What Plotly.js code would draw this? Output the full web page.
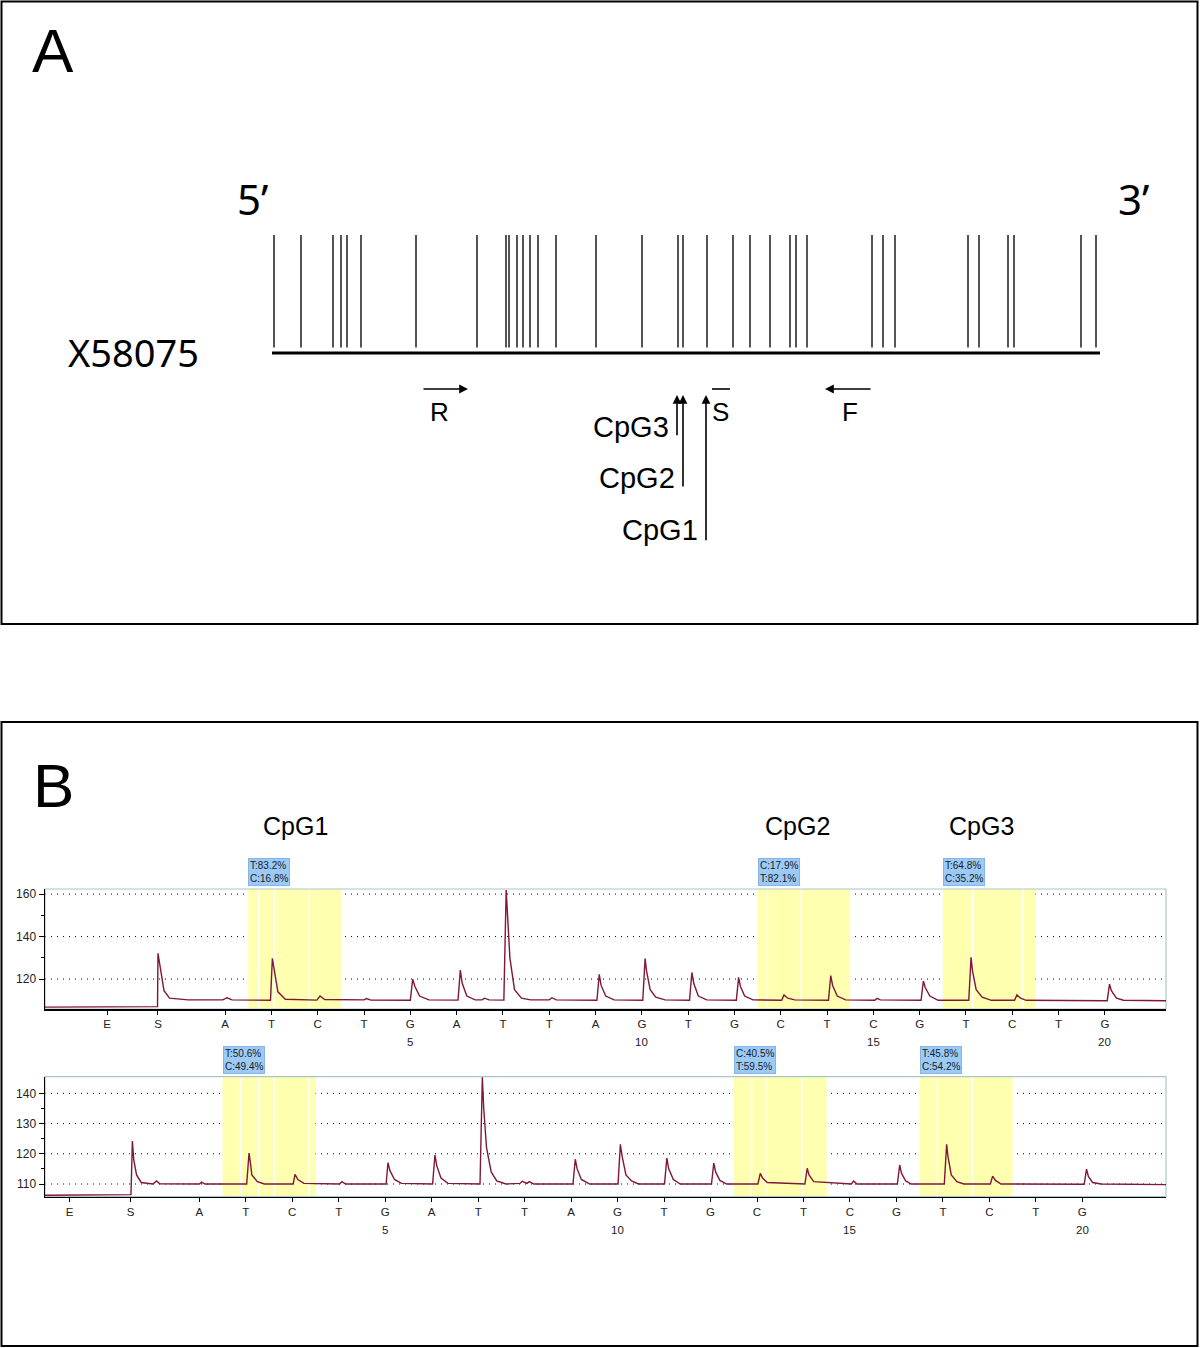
<!DOCTYPE html>
<html>
<head>
<meta charset="utf-8">
<script src="https://cdn.plot.ly/plotly-3.0.1.min.js"></script>
<style>
  html, body { margin: 0; padding: 0; background: #fff; }
  #fig { width: 1200px; height: 1348px; }
</style>
</head>
<body>
<div id="fig"></div>
<script>
// ---------- Panel A: amplicon schematic (X58075) ----------
// CpG site positions along the amplicon (relative units, 0..828)
const cpgSites = [2, 29, 61, 69, 75, 89, 144, 205, 234, 237, 245, 251, 258, 266, 284, 324,
  370, 406, 411, 435, 461, 478, 498, 518, 524, 535, 600, 611, 623, 696, 707, 736, 742, 809, 824];
const ampliconLen = 828;
const primerR = [150, 196];   // tail, head
const primerF = [600, 553];
const seqPrimerS = [440, 458];
const analysedNames = ['CpG1', 'CpG2', 'CpG3'];
const analysedPos = [434, 411, 405];

// ---------- Panel B: pyrograms ----------
const dispensation = ['E', 'S', 'A', 'T', 'C', 'T', 'G', 'A', 'T', 'T', 'A', 'G', 'T', 'G', 'C', 'T', 'C', 'G', 'T', 'C', 'T', 'G'];
const dispPosTop = [-1.55, -0.45, 1, 2, 3, 4, 5, 6, 7, 8, 9, 10, 11, 12, 13, 14, 15, 16, 17, 18, 19, 20];
const dispPosBot = [-1.79, -0.48, 1, 2, 3, 4, 5, 6, 7, 8, 9, 10, 11, 12, 13, 14, 15, 16, 17, 18, 19, 20];
const dispNumbers = [5, 10, 15, 20];

const regionStart = [1.5, 12.5, 16.5];
const regionEnd = [3.5, 14.5, 18.5];
const pctTop = ['T:83.2%<br>C:16.8%', 'C:17.9%<br>T:82.1%', 'T:64.8%<br>C:35.2%'];
const pctBot = ['T:50.6%<br>C:49.4%', 'C:40.5%<br>T:59.5%', 'T:45.8%<br>C:54.2%'];
// faint white separators inside the highlighted regions
const sepTop = [1.72, 2.06, 2.82, 12.71, 13.44, 17.14, 18.23];
const sepBot = [1.89, 2.28, 2.61, 3.36, 12.88, 13.22, 13.97, 16.88, 17.63];

// traced signal, top pyrogram
const topX = [-2.89, -1.5, -0.8, -0.46, -0.45, -0.40, -0.32, -0.2, 0.2,
  0.95, 1.04, 1.15, 1.98, 2.02, 2.06, 2.14, 2.3, 2.98, 3.05, 3.15, 4.0, 4.05, 4.15,
  5.0, 5.05, 5.1, 5.2, 5.4, 6.03, 6.08, 6.12, 6.22, 6.4, 6.55, 6.6, 6.7,
  7.02, 7.07, 7.1, 7.15, 7.25, 7.4, 7.6, 8.0, 8.06, 8.15,
  9.03, 9.08, 9.12, 9.22, 9.4, 10.02, 10.07, 10.1, 10.18, 10.3, 10.5,
  11.03, 11.08, 11.12, 11.22, 11.4, 12.04, 12.09, 12.13, 12.22, 12.4,
  13.02, 13.07, 13.15, 13.3, 14.03, 14.08, 14.12, 14.22, 14.4, 15.03, 15.08, 15.15,
  16.03, 16.08, 16.12, 16.22, 16.4, 17.06, 17.11, 17.14, 17.22, 17.35, 17.55,
  18.05, 18.1, 18.18, 18.3, 20.05, 20.1, 20.14, 20.25, 20.4, 21.32];
const topY = [106.8, 106.9, 107.2, 107.0, 132.1, 126, 114.5, 111, 110.2,
  110.2, 111.2, 110.2, 110.0, 129.7, 124, 114, 110.5, 110.1, 112.0, 110.4, 110.2, 110.8, 110.1,
  110.0, 119.9, 116.5, 112, 110.2, 110.1, 124.2, 118, 112, 110.2, 110.2, 111.0, 110.2,
  110.1, 161.9, 150, 130, 115, 111, 110.2, 110.2, 111.2, 110.2,
  110.0, 122.2, 117, 112, 110.2, 110.0, 129.7, 124, 115, 111.5, 110.2,
  110.0, 123.1, 118, 112, 110.2, 110.0, 120.8, 116.5, 112, 110.2,
  110.0, 112.5, 111, 110.2, 110.0, 121.6, 117, 112, 110.2, 110.0, 110.9, 110.2,
  110.0, 119.1, 116, 112, 110.0, 110.0, 130.2, 124, 115, 111.5, 110.0,
  110.0, 112.5, 111, 110.0, 109.8, 117.6, 114.5, 111, 110.0, 109.8];

// traced signal, bottom pyrogram
const botX = [-2.32, -1.0, -0.5, -0.47, -0.44, -0.41, -0.35, -0.25, 0.0, 0.08, 0.15,
  1.0, 1.05, 1.12, 2.02, 2.07, 2.1, 2.13, 2.25, 2.4, 3.02, 3.06, 3.12, 3.25, 4.02, 4.07, 4.15,
  5.02, 5.06, 5.1, 5.2, 5.35, 6.02, 6.07, 6.11, 6.2, 6.35,
  7.04, 7.09, 7.12, 7.18, 7.28, 7.4, 7.6, 7.9, 7.95, 8.05, 8.1, 8.2,
  9.04, 9.09, 9.13, 9.22, 9.4, 10.01, 10.06, 10.1, 10.18, 10.3, 10.45,
  11.01, 11.06, 11.1, 11.2, 11.35, 12.02, 12.07, 12.11, 12.2, 12.35,
  13.02, 13.07, 13.12, 13.22, 14.03, 14.08, 14.12, 14.22, 15.03, 15.08, 15.15,
  16.02, 16.07, 16.11, 16.2, 16.32, 17.03, 17.08, 17.11, 17.18, 17.3, 17.45,
  18.02, 18.07, 18.13, 18.25, 20.04, 20.09, 20.13, 20.22, 20.4, 21.8];
const botY = [106.3, 106.4, 106.6, 106.5, 124.2, 118, 113, 110.5, 110.0, 111.0, 110.1,
  110.0, 110.6, 110.0, 110.0, 120.2, 117, 113, 110.8, 110.0, 110.0, 113.2, 111.5, 110.2, 110.0, 110.8, 110.0,
  110.0, 117.1, 114.5, 111.5, 110.2, 110.0, 119.6, 116, 112, 110.2,
  110.0, 145.3, 135, 122, 114, 111, 110.0, 110.2, 110.9, 110.2, 110.8, 110.0,
  110.0, 118.2, 115, 111.5, 110.0, 110.0, 123.1, 119, 113, 111, 110.0,
  110.0, 118.6, 115, 111.5, 110.0, 110.0, 116.9, 114, 111.2, 110.0,
  110.0, 113.5, 112, 110.5, 110.0, 115.2, 113, 110.8, 110.0, 111.0, 110.0,
  110.0, 116.3, 113.5, 111, 110.0, 110.0, 123.1, 119, 113, 110.8, 110.0,
  110.0, 112.6, 111.2, 110.0, 109.9, 114.9, 112.5, 110.5, 110.0, 109.8];

// ---------- helpers ----------
const W = 1200, H = 1348;
const px = v => v / W;
const py = v => 1 - v / H;
const sans = 'Liberation Sans, Arial, sans-serif';
const traceColor = '#7e1739';

const traces = [];
const shapes = [];
const annotations = [];

function label(x, y, text, font) {
  annotations.push({ x: x, y: y, xref: 'paper', yref: 'paper', text: text, showarrow: false,
    xanchor: 'center', yanchor: 'middle', font: font });
}

// panel A: site ticks
const siteX = [], siteY = [];
cpgSites.forEach(s => { siteX.push(s, s, null); siteY.push(347.5, 235, null); });
traces.push({ x: siteX, y: siteY, xaxis: 'x', yaxis: 'y', mode: 'lines', hoverinfo: 'skip',
  line: { color: '#2a2a2a', width: 1.6 } });
traces.push({ x: [0, ampliconLen], y: [353, 353], xaxis: 'x', yaxis: 'y', mode: 'lines',
  line: { color: '#000', width: 3.2 } });
traces.push({ x: seqPrimerS, y: [389, 389], xaxis: 'x', yaxis: 'y', mode: 'lines',
  line: { color: '#000', width: 1.6 } });

function arrow(x, y, ax, ay) {
  annotations.push({ x: x, y: y, ax: ax, ay: ay, xref: 'x', yref: 'y', axref: 'x', ayref: 'y',
    text: '', showarrow: true, arrowhead: 2, arrowsize: 1.1, arrowwidth: 1.6, arrowcolor: '#000',
    standoff: 0, startstandoff: 0 });
}
arrow(primerR[1], 389, primerR[0], 389);
arrow(primerF[1], 389, primerF[0], 389);
const tailY = [541.7, 488, 436.7];
const labelY = [530, 478, 427];
analysedPos.forEach((p, i) => {
  arrow(p, 395, p, tailY[i]);
  annotations.push({ x: p - 6, y: labelY[i], xref: 'x', yref: 'y', text: analysedNames[i],
    showarrow: false, xanchor: 'right', yanchor: 'middle', font: { family: sans, size: 29, color: '#000' } });
});
[['R', 167], ['S', 448], ['F', 578]].forEach(([t, x]) => {
  annotations.push({ x: x, y: 412, xref: 'x', yref: 'y', text: t, showarrow: false,
    xanchor: 'center', yanchor: 'middle', font: { family: sans, size: 26, color: '#000' } });
});

// panel headings & labels
label(px(53), py(50), 'A', { family: sans, size: 62, color: '#000' });
label(px(53), py(785), 'B', { family: sans, size: 62, color: '#000' });
label(px(252), py(198), '5’', { family: 'Noto Sans, sans-serif', size: 42, color: '#000' });
label(px(1133), py(198), '3’', { family: 'Noto Sans, sans-serif', size: 42, color: '#000' });
label(px(133), py(352), 'X58075', { family: 'Noto Sans, sans-serif', size: 38, color: '#000' });
[295, 797, 981].forEach((x, i) => label(px(x), py(826), analysedNames[i], { family: sans, size: 25, color: '#000' }));

// panel frames
shapes.push({ type: 'rect', xref: 'paper', yref: 'paper', x0: px(1.5), x1: px(1197.5), y0: py(1.5), y1: py(624),
  line: { color: '#000', width: 2 } });
shapes.push({ type: 'rect', xref: 'paper', yref: 'paper', x0: px(1.5), x1: px(1197.5), y0: py(722), y1: py(1346),
  line: { color: '#000', width: 2 } });

// pyrograms
function pyrogram(xa, ya, xs, ys, pct, grid, seps) {
  // dotted grid first, so the highlighted regions cover it
  grid.forEach(g => {
    shapes.push({ type: 'line', xref: xa + ' domain', yref: ya, x0: 0, x1: 1, y0: g, y1: g,
      line: { color: '#000', width: 1, dash: '1px,5px' }, layer: 'below' });
  });
  regionStart.forEach((s, i) => {
    shapes.push({ type: 'rect', xref: xa, yref: ya + ' domain', x0: s, x1: regionEnd[i], y0: 0, y1: 1,
      fillcolor: '#ffffb0', line: { width: 0 }, layer: 'below' });
    annotations.push({ x: s, y: 1, xref: xa, yref: ya + ' domain', xanchor: 'left', yanchor: 'bottom',
      yshift: 3, text: pct[i], showarrow: false, align: 'left', bgcolor: '#9ccaf7', bordercolor: '#86b4e6',
      borderwidth: 1, borderpad: 1, font: { family: sans, size: 10, color: '#1a1a1a' } });
  });
  seps.forEach(s => {
    shapes.push({ type: 'line', xref: xa, yref: ya + ' domain', x0: s, x1: s, y0: 0, y1: 1,
      line: { color: '#ffffff', width: 1.5 }, layer: 'below' });
  });
  shapes.push({ type: 'rect', xref: xa + ' domain', yref: ya + ' domain', x0: 0, x1: 1, y0: 0, y1: 1,
    line: { color: '#a9c6cf', width: 1.2 }, layer: 'below' });
  traces.push({ x: xs, y: ys, xaxis: xa, yaxis: ya, mode: 'lines', hoverinfo: 'skip',
    line: { color: traceColor, width: 1.4 } });
  dispNumbers.forEach(n => {
    annotations.push({ x: n, y: 0, xref: xa, yref: ya + ' domain', xanchor: 'center', yanchor: 'middle',
      yshift: -33, text: String(n), showarrow: false, font: { family: sans, size: 11.5, color: '#222' } });
  });
}
pyrogram('x2', 'y2', topX, topY, pctTop, [120, 140, 160], sepTop);
pyrogram('x3', 'y3', botX, botY, pctBot, [110, 120, 130, 140], sepBot);

function pyroX(domain, range, ticks, anchor) {
  return { domain: domain, range: range, anchor: anchor, showgrid: false, zeroline: false, showline: true,
    linecolor: '#000', linewidth: 1.5, ticks: 'outside', ticklen: 4, tickcolor: '#000',
    tickmode: 'array', tickvals: ticks, ticktext: dispensation,
    tickfont: { family: sans, size: 11.5, color: '#222' }, fixedrange: true };
}
function pyroY(domain, range, major, minor, anchor) {
  return { domain: domain, range: range, anchor: anchor, tickmode: 'array', tickvals: major, showgrid: false,
    zeroline: false, showline: true, linecolor: '#000', linewidth: 1.5,
    ticks: 'outside', ticklen: 5, tickcolor: '#000', tickfont: { family: sans, size: 12, color: '#222' },
    minor: { tickmode: 'array', tickvals: minor, ticks: 'outside', ticklen: 3, tickcolor: '#000', showgrid: false },
    fixedrange: true };
}

const layout = {
  width: W, height: H,
  margin: { l: 0, r: 0, t: 0, b: 0 },
  paper_bgcolor: '#fff', plot_bgcolor: 'rgba(0,0,0,0)',
  showlegend: false,
  xaxis: { domain: [px(272), px(1100)], range: [0, ampliconLen], visible: false, fixedrange: true, anchor: 'y' },
  yaxis: { domain: [py(624), 1], range: [624, 0], visible: false, fixedrange: true, anchor: 'x' },
  xaxis2: pyroX([px(45), px(1166)], [-2.89, 21.32], dispPosTop, 'y2'),
  yaxis2: pyroY([py(1009), py(889)], [105.9, 162.4], [120, 140, 160], [130, 150], 'x2'),
  xaxis3: pyroX([px(45), px(1166)], [-2.32, 21.8], dispPosBot, 'y3'),
  yaxis3: pyroY([py(1196.7), py(1076.7)], [105.8, 145.5], [110, 120, 130, 140], [115, 125, 135], 'x3'),
  shapes: shapes,
  annotations: annotations
};

Plotly.newPlot('fig', traces, layout, { displayModeBar: false, staticPlot: true });
</script>
</body>
</html>
